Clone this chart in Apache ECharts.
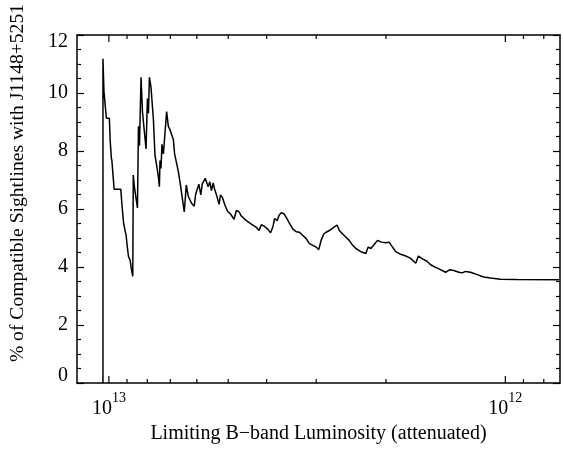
<!DOCTYPE html>
<html>
<head>
<meta charset="utf-8">
<script src="https://cdn.jsdelivr.net/npm/echarts@6/dist/echarts.min.js"></script>
<style>
html,body{margin:0;padding:0;background:#fff;}
#chart{width:564px;height:449px;}
</style>
</head>
<body>
<div id="chart"></div>
<script>
// Limiting B-band luminosity, in units of 1e12 (axis runs from high to low)
const lumE12 = [
  10.35, 10.35, 10.29, 10.175, 10.146, 9.971, 9.925, 9.856, 9.828, 9.732,
  9.698, 9.330, 9.276, 9.185, 9.116, 9.048, 8.985, 8.923, 8.841, 8.780,
  8.704, 8.679, 8.629, 8.554, 8.471, 8.422, 8.373, 8.296, 8.229, 8.153,
  8.059, 7.994, 7.948, 7.902, 7.830, 7.721, 7.650, 7.575, 7.501, 7.458,
  7.432, 7.389, 7.347, 7.287, 7.220, 7.150, 7.080, 7.014, 6.878, 6.826,
  6.682, 6.593, 6.517, 6.454, 6.379, 6.306, 6.248, 6.187, 6.091, 6.045,
  5.976, 5.931, 5.863, 5.815, 5.762, 5.715, 5.663, 5.617, 5.565, 5.511,
  5.457, 5.416, 5.354, 5.271, 5.231, 5.171, 5.103, 5.024, 4.929, 4.833,
  4.769, 4.695, 4.633, 4.500, 4.371, 4.247, 4.181, 4.125, 4.047, 3.969,
  3.909, 3.855, 3.820, 3.761, 3.724, 3.675, 3.618, 3.570, 3.502, 3.434,
  3.369, 3.306, 3.241, 3.180, 3.120, 3.059, 3.001, 2.955, 2.916, 2.871,
  2.833, 2.779, 2.725, 2.658, 2.623, 2.572, 2.523, 2.476, 2.427, 2.382,
  2.314, 2.248, 2.218, 2.184, 2.150, 2.101, 2.053, 2.002, 1.964, 1.926,
  1.890, 1.836, 1.783, 1.733, 1.683, 1.657, 1.619, 1.579, 1.543, 1.499,
  1.457, 1.415, 1.380, 1.349, 1.310, 1.285, 1.260, 1.224, 1.178, 1.134,
  1.091, 1.029, 0.935, 0.732
];
// % of compatible sightlines
const pctCompatible = [
  0, 11.18, 10.05, 10.05, 9.13, 9.13, 8.36, 7.75, 7.68, 7.62,
  6.68, 6.68, 6.2, 5.54, 5.3, 5.09, 4.7, 4.36, 4.25, 3.95,
  3.68, 7.17, 6.8, 6.44, 6.04, 8.85, 8.18, 10.54, 9.36, 9.30,
  8.07, 9.81, 9.30, 10.54, 10.2, 9.08, 7.84, 7.5, 7.11, 6.77,
  7.67, 7.4, 8.23, 7.9, 7.9, 9.36, 8.85, 8.74, 8.4, 7.9,
  7.3, 6.8, 6.3, 5.9, 6.83, 6.44, 6.38, 6.2, 6.1, 6.49,
  6.55, 6.86, 6.49, 6.86, 6.83, 7.06, 7.0, 6.77, 6.94, 6.64,
  6.9, 6.7, 6.49, 6.16, 6.49, 6.4, 6.16, 5.93, 5.82, 5.65,
  5.95, 5.9, 5.76, 5.6, 5.48, 5.37, 5.26, 5.46, 5.4, 5.3,
  5.18, 5.4, 5.67, 5.6, 5.78, 5.87, 5.84, 5.71, 5.51, 5.31,
  5.22, 5.2, 5.09, 4.98, 4.81, 4.75, 4.69, 4.6, 4.92, 5.14,
  5.2, 5.26, 5.34, 5.45, 5.26, 5.14, 5.03, 4.92, 4.75, 4.64,
  4.53, 4.47, 4.69, 4.64, 4.75, 4.92, 4.86, 4.84, 4.86, 4.69,
  4.53, 4.44, 4.38, 4.3, 4.13, 4.38, 4.28, 4.21, 4.08, 3.99,
  3.91, 3.82, 3.91, 3.88, 3.82, 3.8, 3.85, 3.82, 3.74, 3.66,
  3.62, 3.58, 3.57, 3.56
];
const xMajorTicks = [1e13, 1e12];
const xMinorTicks = [9e12, 8e12, 7e12, 6e12, 5e12, 4e12, 3e12, 2e12, 9e11, 8e11];
const xMin = 7.28e11, xMax = 1.2034e13;
const yMin = 0, yMax = 12, yStep = 2;

const FONT = '"Liberation Serif","Times New Roman",serif';
const chart = echarts.init(document.getElementById('chart'), null, {renderer: 'canvas'});

const lineData = lumE12.map((l, i) => [l * 1e12, pctCompatible[i]]);
const tickData = xMajorTicks.map(v => [v, 1]).concat(xMinorTicks.map(v => [v, 0]));

function isDecade(v) {
  const lg = Math.log10(v);
  return Math.abs(lg - Math.round(lg)) < 1e-6;
}

const axisLineStyle = {color: '#000', width: 1.5};
const yLabelText = {fontSize: 20, fontFamily: FONT, color: '#000'};

chart.setOption({
  animation: false,
  backgroundColor: '#fff',
  grid: {left: 75, right: 4, top: 35, bottom: 58, containLabel: false},
  xAxis: [
    {
      type: 'log', logBase: 10, inverse: true, min: xMin, max: xMax, position: 'bottom',
      axisLine: {show: true, onZero: false, lineStyle: axisLineStyle},
      axisTick: {show: false},
      splitLine: {show: false},
      axisLabel: {
        margin: 8, color: '#000', fontFamily: FONT, showMinLabel: true, showMaxLabel: true,
        formatter: v => isDecade(v) ? '{b|10}{s|' + Math.round(Math.log10(v)) + '}' : '',
        rich: {
          b: {fontSize: 20, fontFamily: FONT, color: '#000', verticalAlign: 'bottom', lineHeight: 28},
          s: {fontSize: 14, fontFamily: FONT, color: '#000', verticalAlign: 'top', lineHeight: 28}
        }
      },
      name: 'Limiting B\u2212band Luminosity (attenuated)',
      nameLocation: 'middle', nameGap: 35,
      nameTextStyle: {fontSize: 20, fontFamily: FONT, color: '#000'}
    },
    {
      type: 'log', logBase: 10, inverse: true, min: xMin, max: xMax, position: 'top',
      axisLine: {show: true, onZero: false, lineStyle: axisLineStyle},
      axisTick: {show: false}, axisLabel: {show: false}, splitLine: {show: false}
    }
  ],
  yAxis: [
    {
      type: 'value', min: yMin, max: yMax, interval: yStep, position: 'left',
      axisLine: {show: true, onZero: false, lineStyle: axisLineStyle},
      axisTick: {show: true, inside: true, length: 7, lineStyle: {color: '#000', width: 1.2}},
      minorTick: {show: true, splitNumber: 4, length: 4, lineStyle: {color: '#000', width: 1.2}},
      splitLine: {show: false},
      axisLabel: {
        margin: 9, fontSize: 20, fontFamily: FONT, color: '#000',
        formatter: v => v === yMax ? '{top|' + v + '}' : (v === yMin ? '{bot|' + v + '}' : '{n|' + v + '}'),
        rich: {
          n: yLabelText,
          top: Object.assign({padding: [14, 0, 0, 0]}, yLabelText),
          bot: Object.assign({padding: [0, 0, 14, 0]}, yLabelText)
        }
      },
      name: '% of Compatible Sightlines with J1148+5251',
      nameLocation: 'middle', nameGap: 49, nameRotate: 90,
      nameTextStyle: {fontSize: 19.6, fontFamily: FONT, color: '#000', padding: [0, 0, 0, 52]}
    },
    {
      type: 'value', min: yMin, max: yMax, interval: yStep, position: 'right',
      axisLine: {show: true, onZero: false, lineStyle: axisLineStyle},
      axisTick: {show: true, inside: true, length: 7, lineStyle: {color: '#000', width: 1.2}},
      minorTick: {show: true, splitNumber: 4, length: 4, lineStyle: {color: '#000', width: 1.2}},
      splitLine: {show: false},
      axisLabel: {show: false}
    }
  ],
  series: [
    {
      type: 'line', xAxisIndex: 0, yAxisIndex: 0,
      data: lineData, showSymbol: false, symbol: 'none',
      lineStyle: {color: '#000', width: 1.5}, clip: true
    },
    {
      type: 'custom', xAxisIndex: 0, yAxisIndex: 0, data: tickData, silent: true, clip: false,
      renderItem: function (params, api) {
        const v = api.value(0);
        const len = api.value(1) ? 7 : 4;
        const pb = api.coord([v, yMin]);
        const pt = api.coord([v, yMax]);
        const st = {stroke: '#000', lineWidth: 1.2};
        return {
          type: 'group',
          children: [
            {type: 'line', shape: {x1: pb[0], y1: pb[1], x2: pb[0], y2: pb[1] - len}, style: st},
            {type: 'line', shape: {x1: pt[0], y1: pt[1], x2: pt[0], y2: pt[1] + len}, style: st}
          ]
        };
      }
    }
  ]
});
</script>
</body>
</html>
